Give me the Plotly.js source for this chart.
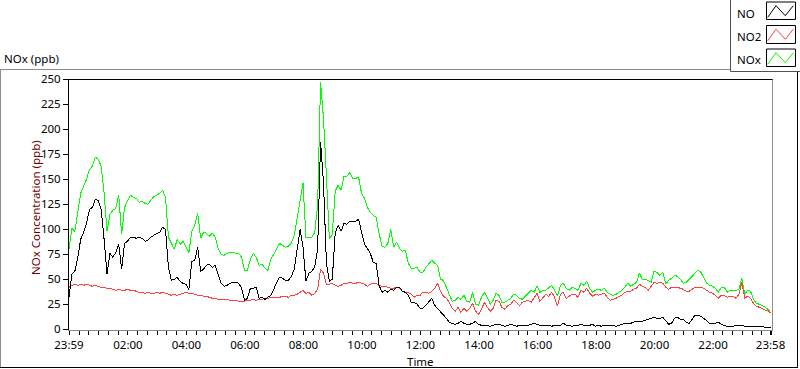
<!DOCTYPE html>
<html><head><meta charset="utf-8">
<script src="https://cdn.plot.ly/plotly-3.0.1.min.js"></script>
<style>html,body{margin:0;padding:0;background:#fff;}#chart{width:800px;height:369px;}
#chart .scatterlayer path.js-line{shape-rendering:crispEdges;}</style>
</head><body><div id="chart"></div>
<script>
// sampling: one value every 6 minutes from 23:59, last value at 23:58 (minute 1439)
const STEP_MIN = 6;
const LAST_MIN = 1439;

const NO = [
32,55,58,72,90,97,106,120,122,130,
129,120,90,55,76,72,77,85,60,86,
88,92,92,91,92,91,88,89,92,94,
96,97,102,100,62,49,50,52,48,46,
45,40,68,69,82,58,60,64,65,62,
64,55,46,43,44,46,47,47,46,41,
29,31,41,41,42,31,32,30,32,34,
40,47,52,51,49,49,53,60,80,100,
82,48,56,
58,62,80,187,147,66,48,
50,96,104,98,106,105,108,108,108,110,
97,85,81,76,67,66,44,37,39,37,
40,39,42,42,38,37,34,27,27,25,
21,21,24,28,
31,24,21,17,14,11,
7,6,5,6,8,6,5,5,6,8,
5,4,4,4,3,4,5,5,4,3,
4,5,4,3,4,4,4,4,5,6,
5,4,4,4,4,3,4,4,4,6,
4,4,3,4,4,5,4,4,4,5,
3,4,
3,4,4,4,4,3,4,5,
6,6,6,7,8,8,8,9,10,11,
12,11,11,12,8,5,6,11,12,10,
10,7,6,10,14,14,13,11,8,6,
6,6,7,5,4,3,3,3,4,4,
4,3,3,3,3,3,3,3,2,2,
2
];

const NO2 = [
42,44,45,44,45,44,45,44,43,44,
43,42,42,41,41,40,39,40,39,39,
40,39,39,38,37,37,36,37,36,36,
37,36,37,36,35,34,35,34,35,36,
37,36,36,35,34,34,33,33,32,31,
31,30,30,30,30,29,29,29,28,28,
28,29,29,30,29,30,30,31,31,32,
32,32,32,33,33,32,34,34,35,37,
39,36,37,
34,36,40,60,56,45,45,
46,44,43,44,46,46,47,46,46,47,
46,45,43,45,46,46,44,43,43,42,
41,41,42,41,38,37,37,35,32,34,
34,37,37,36,
38,41,46,38,33,31,
27,21,18,22,17,21,18,21,26,18,
15,20,27,22,18,21,29,28,22,20,
24,25,29,27,24,27,28,29,27,31,
36,28,31,35,33,37,32,23,35,37,
31,33,35,35,32,39,37,41,36,33,
35,34,
35,36,32,29,30,31,33,34,
37,38,38,40,41,45,43,42,39,43,
47,46,47,46,42,40,42,42,42,41,
40,38,38,40,42,42,42,41,39,37,
36,34,31,34,34,32,33,33,31,35,
47,31,33,31,26,23,22,21,19,19,
16
];

const NOX = [
80,101,98,116,136,143,150,160,163,172,
170,163,136,98,115,119,121,134,95,122,
128,134,132,131,127,128,126,125,129,133,
134,136,139,132,92,86,80,90,85,88,
82,77,98,104,116,91,97,96,93,96,
92,81,75,74,76,77,77,76,76,72,
59,59,70,76,72,64,65,61,59,70,
75,80,86,84,82,83,86,94,110,127,
146,92,92,
92,97,124,247,211,154,90,
95,138,144,139,153,153,157,151,151,152,
136,131,122,117,114,112,96,83,82,86,
100,82,87,81,78,79,66,61,61,62,
57,57,62,65,
69,66,64,50,49,42,
35,28,29,32,30,34,28,27,37,25,
24,32,37,32,25,29,36,34,27,27,
29,31,35,34,31,30,33,36,39,37,
43,37,39,39,42,44,39,33,44,46,
41,39,42,41,39,46,44,48,41,37,
39,40,
39,41,37,35,34,35,37,39,
42,46,43,45,47,56,50,50,49,47,
58,57,54,57,45,49,51,54,53,50,
46,47,50,53,56,59,57,52,46,44,
43,41,37,42,42,37,39,39,39,40,
51,35,39,38,30,26,25,24,22,20,
18
];

const SERIES_NAMES = ['NO', 'NO2', 'NOx'];
const tickMinutes = [0,121,241,361,481,601,721,841,961,1081,1201,1321,1439];
const tickLabels = ['23:59','02:00','04:00','06:00','08:00','10:00','12:00','14:00','16:00','18:00','20:00','22:00','23:58'];
const yTicks = [0,25,50,75,100,125,150,175,200,225,250];

const minutes = NO.map((_, i) => Math.min(i * STEP_MIN, LAST_MIN));

const FONT = 'Noto Sans, Open Sans, sans-serif';
const COLORS = {NO: '#000000', NO2: '#ff4040', NOx: '#00ff00'};

// pixel -> paper helpers (plot area 69..773 x 79..330)
const L = 69, R = 773, T = 79, B = 330;
const px = x => (x - L) / (R - L);
const py = y => (B - y) / (B - T);

const traces = [
  {x: minutes, y: NOX, name: 'NOx', type: 'scatter', mode: 'lines', line: {color: COLORS.NOx, width: 1}},
  {x: minutes, y: NO2, name: 'NO2', type: 'scatter', mode: 'lines', line: {color: COLORS.NO2, width: 1}},
  {x: minutes, y: NO, name: 'NO', type: 'scatter', mode: 'lines', line: {color: COLORS.NO, width: 1}}
];

function line(x0, y0, x1, y1, color) {
  return {type: 'line', xref: 'paper', yref: 'paper', x0: px(x0), y0: py(y0), x1: px(x1), y1: py(y1),
          line: {color: color, width: 1}};
}
function rect(x0, y0, x1, y1, color, fill) {
  return {type: 'rect', xref: 'paper', yref: 'paper', x0: px(x0), y0: py(y0), x1: px(x1), y1: py(y1),
          line: {color: color, width: 1}, fillcolor: fill};
}
function zig(y0, color) {
  const pts = [[767.7, 17.3], [776, 5.7], [785.3, 15.7], [793.3, 5.7]];
  const d = pts.map((p, i) => (i ? 'L' : 'M') + px(p[0]) + ',' + py(p[1] + y0)).join(' ');
  return {type: 'path', xref: 'paper', yref: 'paper', path: d, line: {color: color, width: 1}};
}

const shapes = [
  // outer frame
  line(0, 69.5, 730, 69.5, '#8c8c8c'),
  line(0.5, 69.5, 0.5, 368, '#8c8c8c'),
  line(0, 367.5, 798, 367.5, '#000000'),
  line(797.5, 71.5, 797.5, 368, '#000000'),
  // plot border: top black, right gray
  line(68.5, 79.5, 773, 79.5, '#000000'),
  line(772.5, 79.5, 772.5, 330, '#8c8c8c'),
  // legend box
  line(730.5, 0, 730.5, 71.5, '#505050'),
  line(730.5, 71.5, 800, 71.5, '#505050'),
  rect(766.5, 2, 795.5, 19.5, '#000000', '#ffffff'),
  rect(766.5, 25.5, 795.5, 43.5, '#000000', '#ffffff'),
  rect(766.5, 49, 795.5, 66.5, '#000000', '#ffffff'),
  zig(0, COLORS.NO),
  zig(23.5, COLORS.NO2),
  zig(47, COLORS.NOx)
];

function label(text, x, y, xanchor, opts) {
  return Object.assign({text: text, xref: 'paper', yref: 'paper', x: px(x), y: py(y),
    xanchor: xanchor, yanchor: 'middle', showarrow: false,
    font: {family: FONT, size: 11.5, color: '#000000'}}, opts || {});
}

const annotations = [
  label(SERIES_NAMES[0], 735, 13.5, 'left'),
  label(SERIES_NAMES[1], 735, 36.5, 'left'),
  label(SERIES_NAMES[2], 735, 59.5, 'left'),
  label('Time', 405, 361, 'left'),
  label('NOx Concentration (ppb)', 35, 208, 'center', {textangle: -90, font: {family: FONT, size: 11.5, color: '#6e0000'}})
];

const layout = {
  width: 800, height: 369,
  margin: {l: L, r: 800 - R, t: T, b: 369 - B, pad: 0},
  paper_bgcolor: '#ffffff', plot_bgcolor: '#ffffff',
  showlegend: false,
  font: {family: FONT, size: 11.5, color: '#000000'},
  title: {text: 'NOx (ppb)', x: 4 / 800, xanchor: 'left', xref: 'container', yref: 'container',
          y: 1 - 59 / 369, yanchor: 'middle', font: {family: FONT, size: 11.5, color: '#000000'}},
  xaxis: {
    range: [0, 1444], tickmode: 'array', tickvals: tickMinutes, ticktext: tickLabels,
    ticks: 'outside', ticklen: 4, tickcolor: '#000000', tickwidth: 1,
    showline: true, linecolor: '#8c8c8c', linewidth: 1,
    showgrid: false, zeroline: false, fixedrange: true,
    tickfont: {family: FONT, size: 11.5, color: '#000000'},
    minor: {tickmode: 'linear', tick0: 1, dtick: 20, ticks: 'outside', ticklen: 4, tickcolor: '#000000', showgrid: false}
  },
  yaxis: {
    range: [-0.7, 250.3], tickmode: 'array', tickvals: yTicks,
    ticks: 'outside', ticklen: 5, tickcolor: '#000000', tickwidth: 1,
    showline: true, linecolor: '#000000', linewidth: 1,
    showgrid: false, zeroline: false, fixedrange: true,
    tickfont: {family: FONT, size: 11.5, color: '#000000'}
  },
  shapes: shapes,
  annotations: annotations
};

Plotly.newPlot('chart', traces, layout, {staticPlot: true, displayModeBar: false});
</script>
</body></html>
